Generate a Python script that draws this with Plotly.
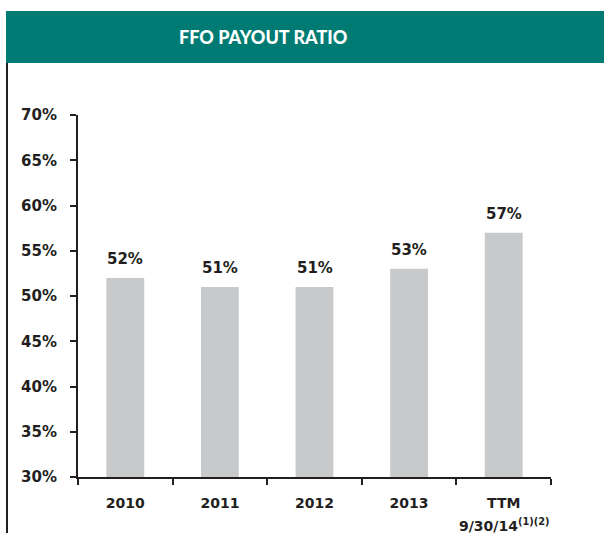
import plotly.graph_objects as go

categories = ["2010", "2011", "2012", "2013", "TTM"]
category_subtitles = ["", "", "", "", "9/30/14<sup>(1)(2)</sup>"]
payout_ratio = [52, 51, 51, 53, 57]
value_labels = ["52%", "51%", "51%", "53%", "57%"]
y_ticks = [30, 35, 40, 45, 50, 55, 60, 65, 70]
y_tick_labels = ["30%", "35%", "40%", "45%", "50%", "55%", "60%", "65%", "70%"]
title_text = "FFO PAYOUT RATIO"

W, H = 604, 533
L, R, T, B = 78, 551, 115, 477
TEAL = "#007B73"
DARK = "#231F20"
GRAY = "#C8C9CB"


def px_x(px):
    return (px - L) / (R - L)


def px_y(py):
    return (B - py) / (B - T)


fig = go.Figure()
fig.add_trace(go.Bar(
    x=categories, y=payout_ratio, width=0.4,
    marker=dict(color=GRAY, line=dict(width=0)),
    base=0, hoverinfo="skip",
))

annotations = []
for i, (v, lab) in enumerate(zip(payout_ratio, value_labels)):
    annotations.append(dict(
        x=i, y=v, xref="x", yref="y", text=lab, showarrow=False,
        yanchor="bottom", yshift=8,
        font=dict(family="DejaVu Sans", size=15, color=DARK, weight="bold"),
    ))
for i, sub in enumerate(category_subtitles):
    if sub:
        annotations.append(dict(
            x=i, y=0, xref="x", yref="paper", text=sub, showarrow=False,
            yanchor="middle", yshift=-48,
            font=dict(family="DejaVu Sans", size=14, color=DARK, weight="bold"),
        ))
annotations.append(dict(
    x=px_x(263), y=px_y(37), xref="paper", yref="paper", text=title_text,
    showarrow=False, xanchor="center", yanchor="middle",
    font=dict(family="Lato", size=18, color="white", weight=900),
))

shapes = [
    dict(type="rect", xref="paper", yref="paper",
         x0=px_x(6), x1=px_x(610), y0=px_y(63), y1=px_y(11),
         fillcolor=TEAL, line=dict(width=0), layer="below"),
    dict(type="line", xref="paper", yref="paper",
         x0=px_x(7), x1=px_x(7), y0=px_y(63), y1=px_y(540),
         line=dict(color=DARK, width=2)),
]

fig.update_layout(
    width=W, height=H,
    margin=dict(l=L, r=W - R, t=T, b=H - B, pad=0, autoexpand=False),
    paper_bgcolor="white", plot_bgcolor="white",
    showlegend=False, hovermode=False,
    annotations=annotations, shapes=shapes,
    xaxis=dict(
        type="category", range=[-0.5, 4.5], automargin=False, tickangle=0,
        showline=True, linecolor=DARK, linewidth=2,
        ticks="outside", tickson="boundaries", ticklen=6, tickwidth=2, tickcolor=DARK,
        showgrid=False, zeroline=False,
        tickfont=dict(family="DejaVu Sans", size=14, color=DARK, weight="bold"),
        ticklabelstandoff=12,
    ),
    yaxis=dict(
        range=[30, 70], tickvals=y_ticks, ticktext=y_tick_labels, automargin=False,
        showline=True, linecolor=DARK, linewidth=2,
        ticks="outside", ticklen=6, tickwidth=2, tickcolor=DARK,
        showgrid=False, zeroline=False,
        tickfont=dict(family="DejaVu Sans", size=15, color=DARK, weight="bold"),
        ticklabelstandoff=10,
    ),
)

fig.write_html("out.html", config={"displayModeBar": False},
               post_script="document.body.style.margin='0';")
